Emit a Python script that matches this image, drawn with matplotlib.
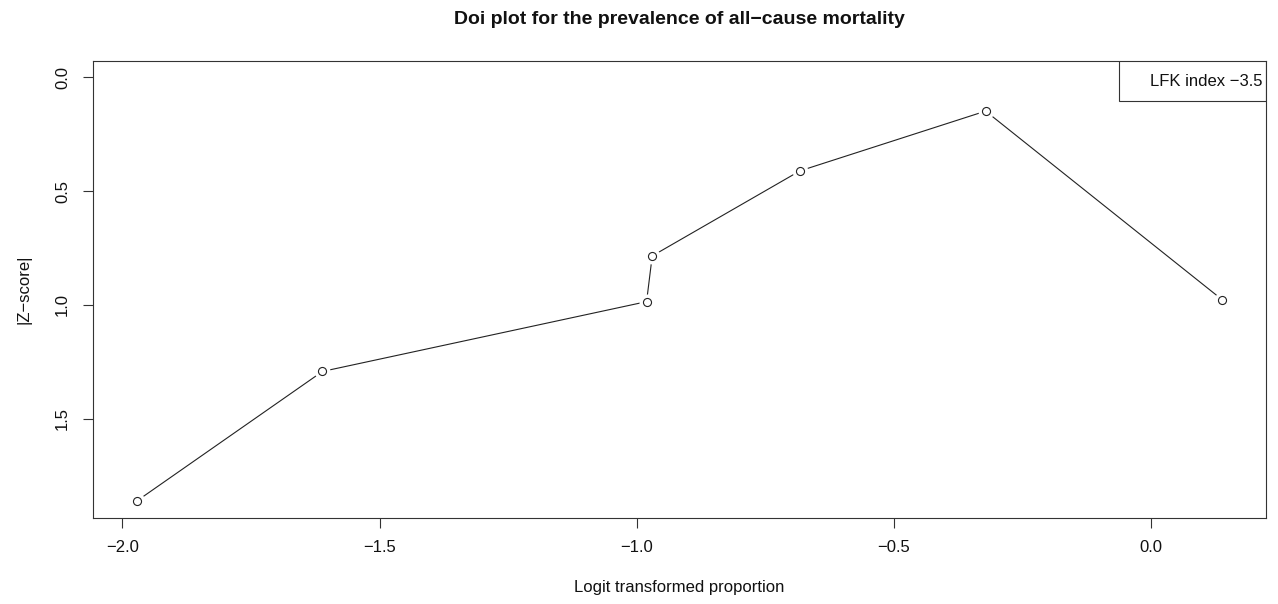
import matplotlib
matplotlib.use("Agg")
import matplotlib.pyplot as plt
from matplotlib.patches import Rectangle

plt.rcParams['font.family'] = ['Liberation Sans', 'DejaVu Sans']

# Study-level points of the Doi plot
logit_prop = [-1.972, -1.611, -0.981, -0.970, -0.683, -0.322, 0.138]
abs_z = [1.863, 1.293, 0.986, 0.785, 0.411, 0.148, 0.978]

x_ticks = [-2.0, -1.5, -1.0, -0.5, 0.0]
x_tick_labels = ["\u22122.0", "\u22121.5", "\u22121.0", "\u22120.5", "0.0"]
y_ticks = [0.0, 0.5, 1.0, 1.5]
y_tick_labels = ["0.0", "0.5", "1.0", "1.5"]

title = "Doi plot for the prevalence of all\u2212cause mortality"
x_label = "Logit transformed proportion"
y_label = "|Z\u2212score|"
lfk_text = "LFK index \u22123.5"

W, H, DPI = 1278, 604, 100
fig = plt.figure(figsize=(W / DPI, H / DPI), dpi=DPI)
left, right, top, bottom = 93.3, 1265.7, 60.5, 518.0
ax = fig.add_axes([left / W, 1 - bottom / H, (right - left) / W, (bottom - top) / H])

# Connecting line with gaps around each point (R type = "b" look)
ax.plot(logit_prop, abs_z, color="#222222", lw=0.8, zorder=1)
ax.plot(logit_prop, abs_z, linestyle="none", marker="o", ms=11.5,
        mfc="white", mec="white", mew=0, zorder=2)
ax.plot(logit_prop, abs_z, linestyle="none", marker="o", ms=5.8,
        mfc="white", mec="#222222", mew=0.8, zorder=3)

# Axis ranges padded by 4% like base R graphics; y starts at 0 and is reversed
xmin, xmax = min(logit_prop), max(logit_prop)
xpad = 0.04 * (xmax - xmin)
ax.set_xlim(xmin - xpad, xmax + xpad)
ymin, ymax = 0.0, max(abs_z)
ypad = 0.04 * (ymax - ymin)
ax.set_ylim(ymax + ypad, ymin - ypad)

ax.set_xticks(x_ticks)
ax.set_xticklabels(x_tick_labels)
ax.set_yticks(y_ticks)
ax.set_yticklabels(y_tick_labels, rotation=90, va="center")
ax.tick_params(axis="both", direction="out", length=7, width=0.8,
               color="#333333", labelsize=12, labelcolor="#111111")
ax.tick_params(axis="x", pad=8.7)
ax.tick_params(axis="y", pad=9.6)
for sp in ax.spines.values():
    sp.set_linewidth(0.8)
    sp.set_color("#333333")

ax.set_xlabel(x_label, fontsize=12, labelpad=18.3, color="#111111")
ax.set_ylabel(y_label, fontsize=12, labelpad=16.8, color="#111111")
fig.text((left + right) / 2 / W, 1 - 20 / H, title, ha="center", va="center",
         fontsize=14, fontweight="bold", color="#111111")

# LFK index box in the top-right corner
bx0 = (1119 - left) / (right - left)
by0 = (bottom - 101) / (bottom - top)
ax.add_patch(Rectangle((bx0, by0), 1 - bx0, 1 - by0, transform=ax.transAxes,
                       fill=False, edgecolor="#333333", lw=0.8, zorder=4))
ax.text((1262 - left) / (right - left), (bottom - 81) / (bottom - top), lfk_text,
        transform=ax.transAxes, ha="right", va="center", fontsize=12,
        color="#111111", zorder=5)

fig.savefig("out.png", dpi=DPI, facecolor="white")
